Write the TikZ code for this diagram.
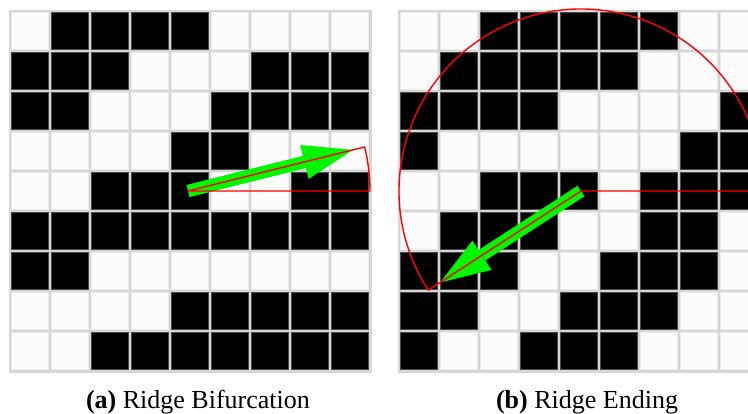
\documentclass[tikz,border=0pt]{standalone}
\usepackage{fontspec}
\setmainfont{Liberation Serif}
\usetikzlibrary{arrows.meta}
\definecolor{linegray}{RGB}{214,214,214}
\definecolor{arrowgreen}{RGB}{0,245,0}
\definecolor{sectorred}{RGB}{255,0,0}

\begin{document}
\begin{tikzpicture}[x=1pt,y=-1pt,
    gridline/.style={fill=linegray},
    cell0/.style={fill=white!99!black,draw=white!92!black,line width=.6pt},
    cell1/.style={fill=black,draw=black!70,line width=.6pt},
    flow/.style={arrowgreen,line width=12.5pt,
      -{Triangle[length=50pt,width=35pt,line width=0pt]}},
    sector/.style={sectorred,line width=1.4pt,line join=round},
    caption/.style={anchor=base,font=\fontsize{26}{30}\selectfont}]
  \useasboundingbox (0,0) rectangle (748,413);
  \begin{scope}
  \clip (0,0) rectangle (748,413);
  % (a) bifurcation grid
  \fill[gridline] (8.5,9.5) rectangle (371.5,372.5);
  \foreach \cells [count=\r from 0] in {{0,1,1,1,1,0,0,0,0},{1,1,1,0,0,0,1,1,1},
      {1,1,0,0,0,1,1,1,1},{0,0,0,0,1,1,0,0,0},{0,0,1,1,1,0,0,1,1},
      {1,1,1,1,1,1,1,1,1},{1,1,0,0,0,0,0,0,0},{0,0,0,0,1,1,1,1,1},
      {0,0,1,1,1,1,1,1,1}}
    \foreach \v [count=\c from 0] in \cells
      \filldraw[cell\v] ({10+40*\c+1.5},{11+40*\r+1.5}) rectangle ++(37,37);
  % (b) ending grid
  \fill[gridline] (397.5,9.5) rectangle (760.5,372.5);
  \foreach \cells [count=\r from 0] in {{0,0,1,1,1,1,1,0,0},{0,1,1,1,1,1,0,0,0},
      {1,1,1,1,0,0,0,0,1},{1,0,0,0,0,0,0,1,1},{0,0,1,1,1,0,1,1,1},
      {0,1,1,1,0,0,1,1,0},{1,1,1,0,0,1,1,1,0},{1,1,0,0,1,1,1,0,0},
      {1,0,0,1,1,1,0,0,0}}
    \foreach \v [count=\c from 0] in \cells
      \filldraw[cell\v] ({399+40*\c+1.5},{11+40*\r+1.5}) rectangle ++(37,37);

  \coordinate (bifc) at (188,191);
  \coordinate (biftip) at ([shift={(-14:170)}]bifc);
  \coordinate (bifend) at ([shift={(-14:182)}]bifc);
  \coordinate (endc) at (581,191);
  \coordinate (endtip) at ([shift={(-213:168)}]endc);
  \coordinate (endend) at ([shift={(-213:182)}]endc);

  \draw[flow] (bifc) -- (biftip);
  \draw[flow] (endc) -- (endtip);
  \draw[sector] (bifc) -- (bifend) arc[start angle=-14,end angle=0,radius=182] -- cycle;
  \draw[sector] (endc) -- (endend) arc[start angle=-213,end angle=0,radius=182] -- cycle;
  \end{scope}

  \node[caption] (capa) at (198,408) {\textbf{(a)} Ridge Bifurcation};
  \node[caption] (capb) at (587,408) {\textbf{(b)} Ridge Ending};
\end{tikzpicture}
\end{document}
